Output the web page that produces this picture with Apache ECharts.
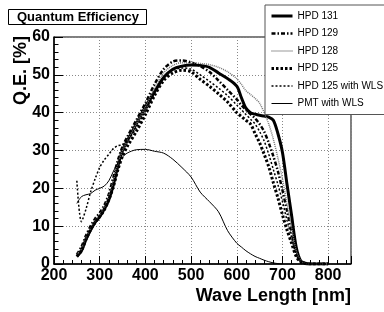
<!DOCTYPE html>
<html>
<head>
<meta charset="utf-8">
<script src="https://cdn.jsdelivr.net/npm/echarts@6/dist/echarts.min.js"></script>
<style>
  html, body { margin: 0; padding: 0; background: #fff; }
  #chart { width: 384px; height: 312px; }
</style>
</head>
<body>
<div id="chart"></div>
<script>
// wave length grid [nm]
const wavelength = [250, 260, 270, 280, 290, 300, 310, 320, 330, 340, 350, 360,
  380, 400, 420, 440, 460, 480, 500, 520, 540, 560, 580, 600,
  610, 620, 630, 640, 650, 660, 670, 680, 690, 700, 710, 720, 730, 740, 750, 760, 800]

// Q.E. [%]
const hpd131 = [2, 3.5, 6.5, 9, 11, 12.5, 14.5, 17, 21, 26, 30, 32.5,
  37, 41.5, 45.5, 49.3, 51.5, 52.3, 52.6, 52.5, 52, 50.5, 49, 47,
  44, 41.2, 40, 39.6, 39.3, 39.1, 38.8, 38, 34.5, 29.5, 21, 12.8, 4.5, 0.8, 0.2, 0, 0]
const hpd129 = [2.5, 4.5, 7.5, 10, 12, 13.5, 15.5, 18.5, 23, 27.5, 31, 33.5,
  38, 42.5, 47.5, 51.5, 53.5, 53.8, 53.3, 52.3, 50.8, 48.5, 46, 43.5,
  42, 40.8, 39.6, 38.5, 37, 35, 32, 28.5, 24.5, 19.5, 14, 8.5, 3, 0.7, 0.2, 0, 0]
const hpd128 = [2.5, 4, 7, 9.5, 11.5, 13, 15, 18, 22, 26.5, 30, 32.5,
  37, 41.5, 46.5, 50.5, 52.5, 53.2, 53.2, 53, 52.7, 52, 50.8, 49,
  47.5, 45.8, 44.8, 43.8, 42.5, 40, 37, 33, 28, 22.5, 16, 9.5, 3.5, 0.8, 0.2, 0, 0]
const hpd125 = [2, 3.5, 6.5, 9, 11, 12.5, 14.3, 17, 20.5, 25, 28.5, 31,
  35, 39.5, 44.5, 48.5, 50.5, 51.2, 50.8, 48.8, 47, 45, 42.8, 40,
  39, 38, 37, 34.5, 32, 29, 25.7, 21.5, 17.5, 13, 9, 5.5, 2, 0.5, 0.1, 0, 0]
const hpd125wls = [22, 11.2, 14.5, 19, 22.5, 25.5, 27.5, 29, 30.5, 31.3, 31.5, 32.5,
  36, 40.5, 45, 49.5, 51.2, 51.8, 51.5, 50, 48.3, 46.5, 44.5, 42,
  40.8, 39.5, 38.3, 37, 35, 32.5, 29, 25, 21, 16.5, 11.5, 7, 2.5, 0.6, 0.1, 0, 0]
const pmtWls = [16, 17.8, 18.3, 18.6, 19.5, 20, 20.6, 22, 24.5, 26.8, 28.3, 29.3,
  30.2, 30.3, 29.8, 29.3, 27.7, 25.5, 23, 19, 16.5, 13.8, 8.8, 5.5,
  4.5, 3.5, 2.7, 2, 1.5, 1, 0.6, 0.3, 0.1, 0, null, null, null, null, null, null, null]

const font = 'Liberation Sans, Arial, Helvetica, sans-serif'
const pairs = arr => wavelength.map((w, i) => [w, arr[i]])

const curve = (name, arr, lineStyle) => ({
  name,
  type: 'line',
  data: pairs(arr),
  showSymbol: false,
  symbol: 'none',
  smooth: 0.3,
  connectNulls: false,
  lineStyle: Object.assign({ color: '#000', cap: 'butt' }, lineStyle),
  itemStyle: { color: lineStyle.color || '#000' }
})

const myChart = echarts.init(document.getElementById('chart'), null, { renderer: 'canvas' })
const option = {
  animation: false,
  backgroundColor: '#fff',
  title: {
    text: 'Quantum Efficiency',
    left: 8,
    top: 9,
    padding: [2, 8, 1, 9],
    borderColor: '#000',
    borderWidth: 1,
    textStyle: { fontFamily: font, fontSize: 13, fontWeight: 'bold', color: '#000', lineHeight: 13 }
  },
  legend: {
    orient: 'vertical',
    left: 265,
    top: 5,
    padding: [6, 3, 6, 5],
    itemWidth: 21,
    itemHeight: 10,
    itemGap: 7.5,
    backgroundColor: '#fff',
    borderColor: '#555',
    borderWidth: 1,
    // line only, no marker in the key
    itemStyle: { opacity: 0 },
    lineStyle: { width: 'inherit' },
    textStyle: { fontFamily: font, fontSize: 10, color: '#000' },
    data: ['HPD 131', 'HPD 129', 'HPD 128', 'HPD 125', 'HPD 125 with WLS', 'PMT with WLS']
  },
  grid: {
    left: 54, right: 33, top: 37, bottom: 48,
    outerBoundsMode: 'none',
    show: true, borderColor: '#000', borderWidth: 1, backgroundColor: 'transparent'
  },
  xAxis: {
    type: 'value',
    min: 200, max: 850, interval: 100,
    name: 'Wave Length [nm]',
    nameLocation: 'end',
    nameGap: 0,
    nameMoveOverlap: false,
    nameTextStyle: { fontFamily: font, fontSize: 18, fontWeight: 'bold', color: '#000',
      align: 'right', verticalAlign: 'top', padding: [23, 0, 0, 0] },
    axisLine: { lineStyle: { color: '#000', width: 1.5 } },
    axisTick: { inside: true, length: 8, lineStyle: { color: '#000' } },
    minorTick: { show: true, splitNumber: 5, length: 4, lineStyle: { color: '#000' } },
    splitLine: { show: true, lineStyle: { color: '#888', type: [1, 2] } },
    axisLabel: {
      fontFamily: font, fontSize: 16, fontWeight: 'bold', color: '#000', margin: 4,
      formatter: v => (v % 100 === 0 && v <= 800 ? String(v) : '')
    }
  },
  yAxis: {
    type: 'value',
    min: 0, max: 60, interval: 10,
    name: 'Q.E. [%]',
    nameLocation: 'end',
    nameRotate: 90,
    nameGap: 1,
    nameMoveOverlap: false,
    nameTextStyle: { fontFamily: font, fontSize: 18, fontWeight: 'bold', color: '#000',
      align: 'right', verticalAlign: 'bottom', padding: [0, 0, 24, 0] },
    axisLine: { show: true, lineStyle: { color: '#000', width: 1.5 } },
    axisTick: { show: true, inside: true, length: 9, lineStyle: { color: '#000' } },
    minorTick: { show: true, splitNumber: 5, length: 4.5, lineStyle: { color: '#000' } },
    splitLine: { show: true, lineStyle: { color: '#888', type: [1, 2] } },
    axisLabel: { fontFamily: font, fontSize: 16, fontWeight: 'bold', color: '#000', margin: 4 }
  },
  series: [
    curve('HPD 131', hpd131, { width: 3 }),
    curve('HPD 129', hpd129, { width: 2.5, type: [4, 2, 1.5, 2] }),
    curve('HPD 128', hpd128, { width: 1.5, type: [1, 1], color: '#777' }),
    curve('HPD 125', hpd125, { width: 3, type: [2.5, 2] }),
    curve('HPD 125 with WLS', hpd125wls, { width: 1.5, type: [2, 2] }),
    curve('PMT with WLS', pmtWls, { width: 1 })
  ]
}
myChart.setOption(option)
</script>
</body>
</html>
